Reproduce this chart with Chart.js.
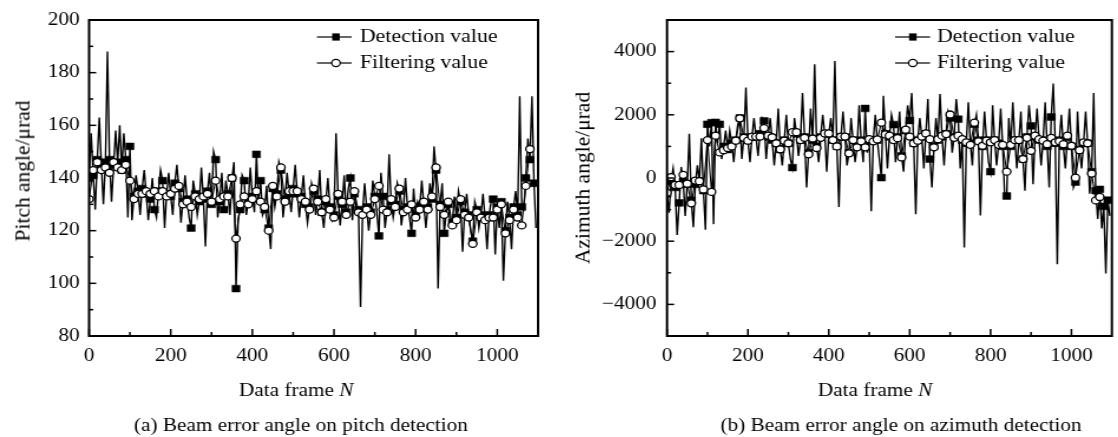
<!DOCTYPE html>
<html lang="en">
<head>
  <meta charset="UTF-8">
  <title>Beam error angle on pitch and azimuth detection</title>
  <script src="https://cdn.jsdelivr.net/npm/chart.js@4"></script>
  <style>
    body { margin: 0; background: #fff; width: 1118px; height: 437px; overflow: hidden; position: relative; font-family: "Liberation Serif", "Times New Roman", serif; }
    .panel { position: absolute; top: 0; transform: scaleX(1.18); transform-origin: 0 0; }
    .panel canvas { display: block; }
    .ytitle { position: absolute; font-size: 21.5px; white-space: nowrap; color: #000; transform: translate(-50%, -50%) rotate(-90deg); }
  </style>
</head>
<body>
  <div class="panel" style="left:0"><canvas id="pitchChart" width="474" height="437"></canvas></div>
  <div class="panel" style="left:560px"><canvas id="azChart" width="473" height="437"></canvas></div>
  <div class="ytitle" style="left:23px; top:171px">Pitch angle/μrad</div>
  <div class="ytitle" style="left:583px; top:178px">Azimuth angle/μrad</div>

  <script>
    // detection value every 5 frames (0..1095), filtering value every 10 frames
    const pitchDetection = [
      140,157,141,128,147,163,145,130,146,188,
      147,131,145,158,146,160,143,157,147,125,
      152,124,133,141,135,126,136,143,134,124,
      132,140,128,125,135,143,139,121,134,142,
      133,126,138,145,136,123,131,141,132,125,
      121,139,134,126,131,144,132,114,135,142,
      130,150,147,125,131,142,128,139,134,126,
      140,146,98,124,128,141,139,126,131,144,
      133,127,149,131,139,126,128,137,121,113,
      136,129,134,146,143,125,132,142,134,127,
      136,145,134,125,133,141,130,123,129,138,
      135,126,132,143,127,121,131,140,129,124,
      126,157,133,122,130,141,127,136,140,124,
      134,128,128,91,127,138,129,120,127,139,
      133,127,118,142,133,121,128,149,131,125,
      130,138,135,122,128,140,129,125,119,136,
      126,131,129,139,130,121,129,138,132,152,
      143,98,130,138,119,127,130,122,123,133,
      125,135,131,112,127,134,126,120,116,131,
      128,121,126,134,125,113,126,131,132,111,
      129,121,131,101,120,131,125,113,129,135,
      126,171,129,128,140,155,147,171,138,121
    ];
    const pitchFiltering = [
      132,143,146,143,144,142,146,144,143,145,
      139,132,134,134,135,134,135,133,135,133,
      134,136,137,130,131,129,133,132,133,134,
      131,139,132,133,133,140,117,130,133,130,
      132,135,131,129,120,137,133,144,131,135,
      135,135,132,131,128,136,131,127,132,128,
      125,134,131,126,131,135,127,126,128,126,
      132,137,128,127,132,129,136,127,128,130,
      125,128,131,128,133,144,129,126,131,122,
      124,132,126,125,115,127,125,124,125,125,
      128,130,119,124,128,125,122,137,151
    ];
    const azDetection = [
      -500,-1100,-100,300,-300,-1800,-790,350,-100,-1200,
      -200,1400,-700,-1560,-200,400,-100,1260,-400,-1640,
      1700,1000,1750,-1460,1760,1100,1700,600,1000,1500,
      900,1500,1100,500,1200,1700,1900,600,1300,2860,
      1200,500,1300,1900,1300,700,1400,1900,1810,600,
      1300,1900,1200,400,1100,2200,900,400,1200,2000,
      1100,600,330,1900,1400,700,1200,2690,1300,-300,
      800,2200,1200,3600,1000,500,1300,2000,1400,200,
      1400,1900,1200,3700,1000,-920,1300,2100,1300,400,
      800,1900,1200,500,1000,2300,1200,500,2200,800,
      1200,-1050,1200,2000,1200,600,10,2600,1400,300,
      1300,2000,1690,500,1300,2100,700,200,1500,2300,
      1820,2690,1100,-1150,1200,1900,1300,300,1400,2500,
      600,-300,1000,1900,1200,2660,1300,400,1400,2100,
      1900,800,1300,2500,1860,300,1200,-2200,1100,2400,
      1100,400,1700,2000,1200,-1190,1000,2100,1200,500,
      200,2300,1200,400,1100,2200,1000,-600,-570,1900,
      1000,2400,1200,300,1200,2100,600,-400,1300,2300,
      1650,-200,1300,2200,1200,400,1200,2400,1000,-300,
      1930,2990,1100,-2730,1200,2000,1000,300,1300,2200,
      1000,-300,-130,2100,900,300,1100,2100,1100,-500,
      200,2690,-400,-1300,-360,-1600,-900,-3020,-700,-1200
    ];
    const azFiltering = [
      -470,30,-220,-220,100,-180,-800,-80,-100,-360,
      1200,-440,1340,810,880,950,1000,1180,1890,1270,
      1180,1310,1310,1310,1580,1340,1290,1100,910,1180,
      1100,1450,1450,1200,1270,750,1250,950,1270,1410,
      1410,1200,1000,1310,1310,780,1200,970,1160,970,
      1230,1160,1220,1750,1380,1340,1200,1260,650,1530,
      1310,1100,1180,1310,1410,1230,970,1230,1340,1390,
      2010,1270,1340,1230,1130,1050,1750,1160,1020,1180,
      1130,1200,1050,1050,200,1050,1200,1200,600,1270,
      860,1340,1230,1180,1070,1270,1130,1160,1070,1340,
      1020,10,880,1130,1100,140,-710,-600
    ];

    // tick labels
    const frameTicks = [0, 200, 400, 600, 800, 1000];
    const pitchTicks = [80, 100, 120, 140, 160, 180, 200];
    const azTicks = [-4000, -2000, 0, 2000, 4000];

    Chart.defaults.font.family = '"Liberation Serif", "Times New Roman", serif';
    Chart.defaults.font.size = 18;
    Chart.defaults.color = '#000';

    function midpoints(arr) {
      const out = [];
      for (let i = 0; i < arr.length - 1; i++) out.push((arr[i] + arr[i + 1]) / 2);
      return out;
    }

    // frame box, inward ticks, legend, x title and caption
    const paperAxes = {
      id: 'paperAxes',
      afterDraw(chart, args, o) {
        const ctx = chart.ctx, a = chart.chartArea, x = chart.scales.x, y = chart.scales.y;
        const seg = (x0, y0, x1, y1) => { ctx.beginPath(); ctx.moveTo(x0, y0); ctx.lineTo(x1, y1); ctx.stroke(); };
        ctx.save();
        ctx.strokeStyle = '#000';
        ctx.lineWidth = 1.5;
        frameTicks.forEach(v => { const p = x.getPixelForValue(v); seg(p, a.bottom, p, a.bottom - 7); });
        midpoints(frameTicks).forEach(v => { const p = x.getPixelForValue(v); seg(p, a.bottom, p, a.bottom - 4); });
        o.yTicks.forEach(v => { const p = y.getPixelForValue(v); seg(a.left, p, a.left + 6, p); });
        midpoints(o.yTicks).forEach(v => { const p = y.getPixelForValue(v); seg(a.left, p, a.left + 3.5, p); });
        ctx.lineWidth = 2;
        ctx.strokeRect(a.left, a.top, a.right - a.left, a.bottom - a.top);

        // legend
        const L = o.legend;
        ctx.lineWidth = 1.2;
        ctx.font = '18.5px "Liberation Serif", serif';
        ctx.fillStyle = '#000';
        ctx.textBaseline = 'middle';
        ctx.textAlign = 'left';
        seg(L.x0, 37, L.x1, 37);
        ctx.fillRect(L.mx - 3.2, 37 - 3.6, 6.4, 7.2);
        ctx.fillText('Detection value', L.tx, 37);
        seg(L.x0, 63, L.x1, 63);
        ctx.beginPath();
        ctx.arc(L.mx, 63, 3.6, 0, Math.PI * 2);
        ctx.fillStyle = '#fff';
        ctx.fill();
        ctx.stroke();
        ctx.fillStyle = '#000';
        ctx.fillText('Filtering value', L.tx, 63);

        // x axis title with italic N
        const t1 = 'Data frame ', t2 = 'N';
        ctx.font = '18px "Liberation Serif", serif';
        const w1 = ctx.measureText(t1).width;
        ctx.font = 'italic 18px "Liberation Serif", serif';
        const w2 = ctx.measureText(t2).width;
        const sx = o.titleX - (w1 + w2) / 2;
        ctx.font = '18px "Liberation Serif", serif';
        ctx.fillText(t1, sx, 391);
        ctx.font = 'italic 18px "Liberation Serif", serif';
        ctx.fillText(t2, sx + w1, 391);

        ctx.font = '18px "Liberation Serif", serif';
        ctx.textAlign = 'center';
        ctx.fillText(o.caption, o.captionX, 426);
        ctx.restore();
      }
    };

    function makeChart(id, det, filt, cfg) {
      const detPts = det.map((v, i) => ({ x: i * 5, y: v }));
      const filtPts = filt.map((v, i) => ({ x: i * 10, y: v }));
      const canvas = document.getElementById(id);
      return new Chart(canvas, {
        type: 'line',
        data: {
          datasets: [
            {
              label: 'Filtering value', data: filtPts, order: 0,
              borderColor: '#000', borderWidth: 1.1,
              pointStyle: 'circle', pointRadius: 3.5,
              pointBackgroundColor: '#fff', pointBorderColor: '#000', pointBorderWidth: 1.3
            },
            {
              label: 'Detection value', data: detPts, order: 1,
              borderColor: '#000', borderWidth: 1.4,
              pointStyle: 'rect',
              pointRadius: ctx => (ctx.dataIndex % 2 === 0 ? 4.8 : 0),
              pointBackgroundColor: '#000', pointBorderColor: '#000', pointBorderWidth: 0.5
            }
          ]
        },
        options: {
          responsive: false,
          animation: false,
          events: [],
          layout: { padding: { left: 0, top: 20, bottom: 0, right: canvas.width - cfg.areaRight } },
          scales: {
            x: {
              type: 'linear', min: 0, max: 1100,
              grid: { display: false, drawTicks: false },
              border: { display: false },
              ticks: { padding: 9, maxRotation: 0, autoSkip: false, callback: v => String(v) },
              afterBuildTicks: s => { s.ticks = frameTicks.map(v => ({ value: v })); },
              afterFit: s => { s.height = canvas.height - 336; }
            },
            y: {
              type: 'linear', min: cfg.yMin, max: cfg.yMax,
              grid: { display: false, drawTicks: false },
              border: { display: false },
              ticks: { padding: cfg.yPad, callback: v => String(v).replace('-', '\u2212') },
              afterBuildTicks: s => { s.ticks = cfg.yTicks.map(v => ({ value: v })); },
              afterFit: s => { s.width = cfg.areaLeft; }
            }
          },
          plugins: {
            legend: { display: false },
            tooltip: { enabled: false },
            paperAxes: {
              yTicks: cfg.yTicks, legend: cfg.legend,
              titleX: cfg.titleX, caption: cfg.caption, captionX: cfg.captionX
            }
          }
        },
        plugins: [paperAxes]
      });
    }

    makeChart('pitchChart', pitchDetection, pitchFiltering, {
      yMin: 80, yMax: 200, yTicks: pitchTicks, yPad: 8,
      areaLeft: 75.5, areaRight: 456,
      legend: { x0: 268.6, x1: 298, mx: 284.7, tx: 305 },
      titleX: 251, caption: '(a) Beam error angle on pitch detection', captionX: 255
    });

    makeChart('azChart', azDetection, azFiltering, {
      yMin: -5000, yMax: 5000, yTicks: azTicks, yPad: 9,
      areaLeft: 90.7, areaRight: 471.2,
      legend: { x0: 284, x1: 313.6, mx: 299, tx: 319.5 },
      titleX: 267, caption: '(b) Beam error angle on azimuth detection', captionX: 289
    });
  </script>
</body>
</html>
